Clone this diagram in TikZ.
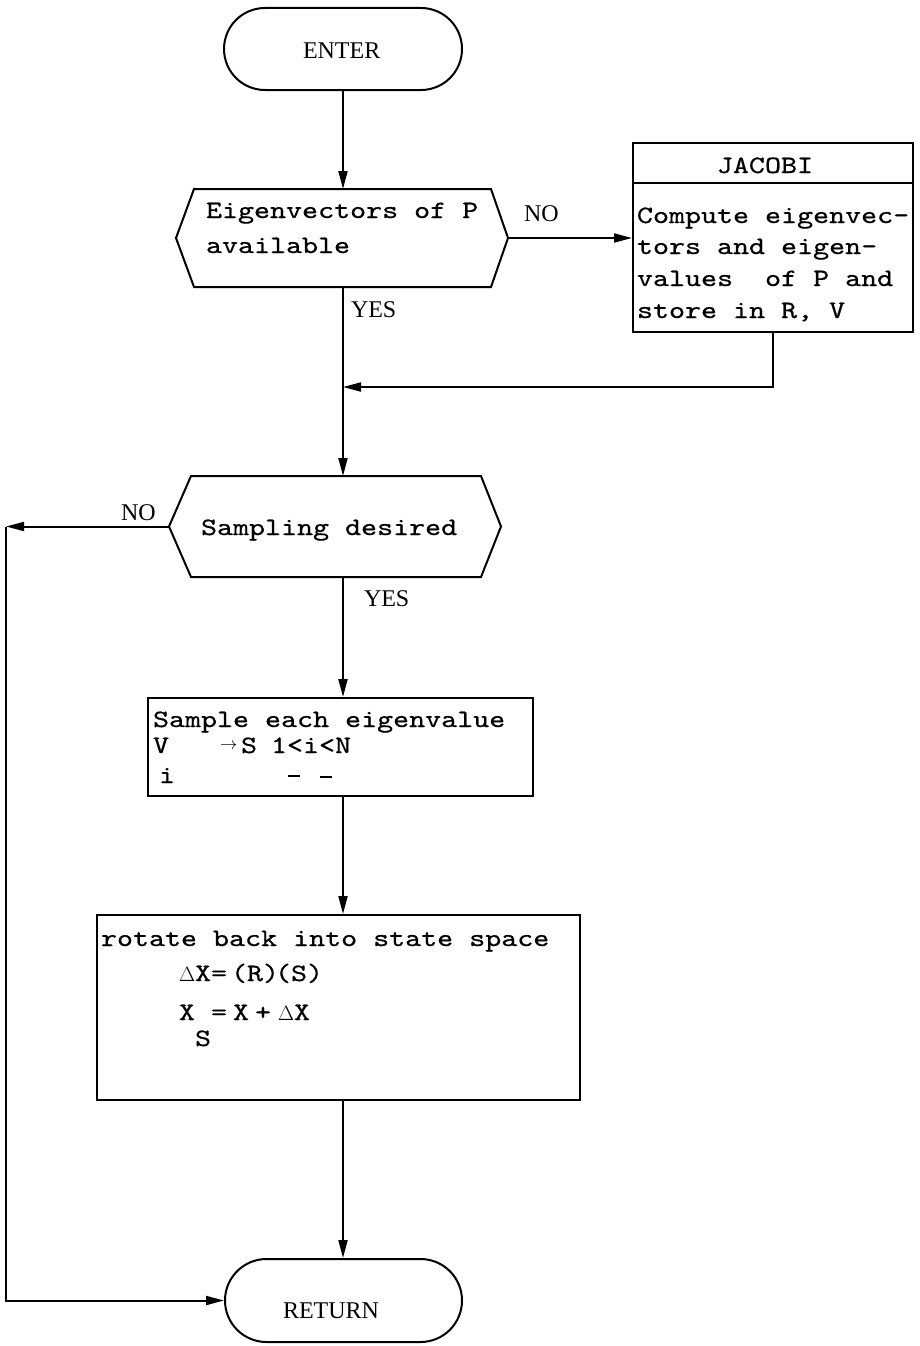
\documentclass[tikz,border=0pt]{standalone}
\usepackage{fontspec}
\setmainfont{Liberation Serif}
\setmonofont[FakeStretch=1.22,FakeBold=0.6]{lmmono10-regular.otf}
\usetikzlibrary{arrows.meta,shapes.misc}
\newcommand{\DeltaSym}{{\rmfamily\fontsize{21}{21}\selectfont$\Delta$}}

\begin{document}
\begin{tikzpicture}[x=1pt,y=-1pt,line width=2pt,
  arr/.style={-{Triangle[length=18pt,width=9pt]}},
  term/.style={draw, rounded rectangle, minimum width=238pt, minimum height=82pt, inner sep=0pt},
  procbox/.style={draw, rectangle, inner sep=0pt},
  decbox/.style={rectangle, inner sep=0pt},
  tt/.style={font=\ttfamily\fontsize{25}{30}\selectfont, inner sep=0pt, anchor=base west},
  lbl/.style={font=\fontsize{24}{28}\selectfont, inner sep=0pt, anchor=base west}]
\useasboundingbox (0,0) rectangle (919,1346);

% entry terminal
\node[term] (enter) at (343,49) {};
\node[lbl] (enterT) at (302,59) {ENTER};

% first decision: eigenvectors available?
\node[decbox, minimum width=330pt, minimum height=96pt] (dec1) at (342,238) {};
\draw (dec1.west) -- ([xshift=18pt]dec1.north west) -- ([xshift=-17pt]dec1.north east)
  -- (dec1.east) -- ([xshift=-17pt]dec1.south east) -- ([xshift=18pt]dec1.south west) -- cycle;
\node[tt] (d1a) at (205,218) {Eigenvectors of P};
\node[tt] (d1b) at (205,253) {available};
\node[lbl] (no1) at (523,221) {NO};
\node[lbl] (yes1) at (350,317) {YES};

% JACOBI subroutine box
\node[procbox, minimum width=280pt, minimum height=189pt] (jac) at (773,237.5) {};
\draw ([yshift=-41pt]jac.north west) -- ([yshift=-41pt]jac.north east);
\node[tt, anchor=base] (jacT) at (765,173) {JACOBI};
\node[tt] (j1) at (636,223) {Compute eigenvec-};
\node[tt] (j2) at (636,254) {tors and eigen-};
\node[tt] (j3) at (636,286) {values\ \ of P and};
\node[tt] (j4) at (636,318) {store in R, V};

% second decision: sampling desired?
\node[decbox, minimum width=330pt, minimum height=99pt] (dec2) at (335,526.5) {};
\draw (dec2.west) -- ([xshift=22pt]dec2.north west) -- ([xshift=-20pt]dec2.north east)
  -- (dec2.east) -- ([xshift=-20pt]dec2.south east) -- ([xshift=22pt]dec2.south west) -- cycle;
\node[tt] (d2a) at (200,535) {Sampling desired};
\node[lbl] (no2) at (120,520) {NO};
\node[lbl] (yes2) at (363,606) {YES};

% sampling box
\node[procbox, minimum width=385pt, minimum height=98pt] (samp) at (340.5,747) {};
\node[tt] (s1) at (152,727) {Sample each eigenvalue};
\node[tt] (sV) at (152,753) {V};
\node[tt] (sVi) at (158,783) {i};
\node[inner sep=0pt, anchor=base west, font=\fontsize{16}{16}\selectfont] (sArr) at (219,749) {$\rightarrow$};
\node[tt] (sS) at (240,753) {S};
\node[tt] (sRange) at (270,753) {1<i<N};
\draw[line width=1.4pt] (288,776) -- (300,776);
\draw[line width=1.4pt] (320,777) -- (332,777);

% rotation box
\node[procbox, minimum width=483pt, minimum height=185pt] (rot) at (338.5,1007.5) {};
\node[tt] (r1) at (100,946) {rotate back into state space};
\node[tt] (r2a) at (178,981) {\DeltaSym X};
\node[tt] (r2b) at (210,981) {=};
\node[tt] (r2c) at (230,981) {(R)};
\node[tt] (r2d) at (274,981) {(S)};
\node[tt] (r3a) at (178,1020) {X};
\node[tt] (r3s) at (194,1046) {S};
\node[tt] (r3b) at (210,1020) {=};
\node[tt] (r3c) at (232,1020) {X};
\node[tt] (r3d) at (254,1020) {+};
\node[tt] (r3e) at (277,1020) {\DeltaSym X};

% exit terminal
\node[term, minimum width=237pt, minimum height=83pt] (ret) at (343.5,1300.5) {};
\node[lbl] (retT) at (282,1318) {RETURN};

% connectors
\coordinate (merge) at (343,387);
\coordinate (loopTop) at (6,526.5);
\draw[arr] (enter.south) -- (enter.south |- dec1.north);
\draw[arr] (dec1.east) -- (dec1.east -| jac.west);
\draw[arr] (jac.south) |- (merge);
\draw[arr] (enter.south |- dec1.south) -- (enter.south |- dec2.north);
\draw[arr] (dec2.west) -- (loopTop);
\draw[arr] (loopTop) -- (loopTop |- ret.west) -- (ret.west);
\draw[arr] (enter.south |- dec2.south) -- (enter.south |- samp.north);
\draw[arr] (enter.south |- samp.south) -- (enter.south |- rot.north);
\draw[arr] (enter.south |- rot.south) -- (enter.south |- ret.north);
\end{tikzpicture}
\end{document}
